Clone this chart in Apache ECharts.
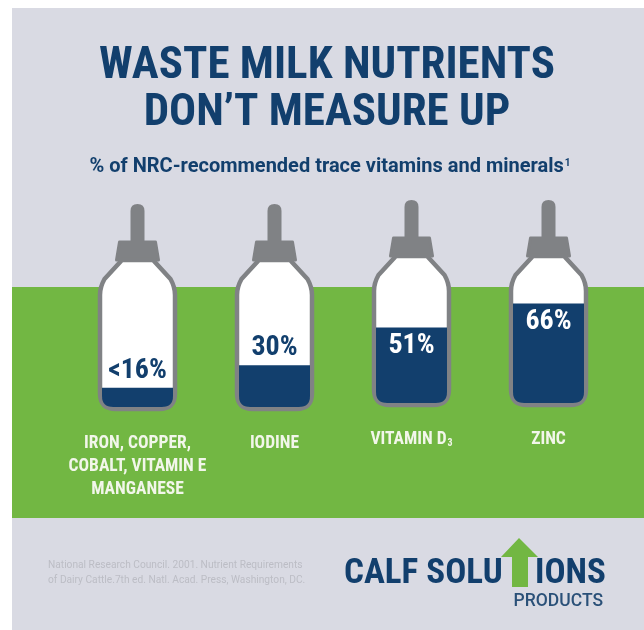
<!DOCTYPE html>
<html>
<head>
<meta charset="utf-8">
<script src="https://cdn.jsdelivr.net/npm/echarts@6/dist/echarts.min.js"></script>
<style>
  html, body { margin: 0; padding: 0; background: #fff; }
  #main { width: 644px; height: 630px; }
</style>
</head>
<body>
<div id="main"></div>
<script>
var categories = ['IRON, COPPER,\nCOBALT, VITAMIN E\nMANGANESE', 'IODINE', 'VITAMIN D{sub|3}', 'ZINC'];
var values = [16, 30, 51, 66];
var valueLabels = ['<16%', '30%', '51%', '66%'];

var navy = '#123f6d';
var green = '#72b743';
var panel = '#d9dae3';
var grey = '#808285';
var narrow = '"Roboto Condensed", Roboto, sans-serif';
var axisMin = 4;

var chart = echarts.init(document.getElementById('main'));

function renderBottle(params, api) {
  var base = api.coord([api.value(0), axisMin]);
  var top = api.coord([api.value(0), api.value(1)]);
  var cx = base[0], yb = base[1], yt = top[1];
  function p(dx, dy) { return (cx + dx) + ' ' + (yb + dy); }

  var body = 'M' + p(-37.5, -14) + ' L' + p(-37.5, -112) + ' Q' + p(-37.5, -120) + ' ' + p(-33, -128) +
    ' L' + p(-15.5, -147) + ' L' + p(15.5, -147) + ' L' + p(33, -128) + ' Q' + p(37.5, -120) + ' ' + p(37.5, -112) +
    ' L' + p(37.5, -14) + ' Q' + p(37.5, 2) + ' ' + p(21.5, 2) + ' L' + p(-21.5, 2) + ' Q' + p(-37.5, 2) + ' ' + p(-37.5, -14) + ' Z';
  var cap = 'M' + p(-21, -147) + ' L' + p(-18, -165) + ' L' + p(18, -165) + ' L' + p(21, -147) + ' Z';
  var teat = 'M' + p(-7, -160) + ' L' + p(-7, -196) + ' Q' + p(-7, -203) + ' ' + p(0, -203) +
    ' Q' + p(7, -203) + ' ' + p(7, -196) + ' L' + p(7, -160) + ' Z';
  var milk = 'M' + (cx - 35.5) + ' ' + yt + ' L' + (cx + 35.5) + ' ' + yt + ' L' + p(35.5, -11) +
    ' Q' + p(35.5, 0) + ' ' + p(24.5, 0) + ' L' + p(-24.5, 0) + ' Q' + p(-35.5, 0) + ' ' + p(-35.5, -11) + ' Z';

  var inside = api.value(1) > 40;
  return {
    type: 'group',
    children: [
      { type: 'path', shape: { pathData: teat }, style: { fill: grey } },
      { type: 'path', shape: { pathData: cap }, style: { fill: grey, stroke: grey, lineWidth: 3, lineJoin: 'round' } },
      { type: 'path', shape: { pathData: body }, style: { fill: '#fff', stroke: grey, lineWidth: 4.5 } },
      { type: 'path', shape: { pathData: milk }, style: { fill: navy } },
      {
        type: 'text',
        style: {
          text: valueLabels[api.value(2)],
          x: cx,
          y: inside ? yt + 18 : yt - 17,
          fill: inside ? '#fff' : navy,
          font: 'bold 28px ' + narrow,
          align: 'center',
          verticalAlign: 'middle'
        }
      }
    ]
  };
}

function makeAxis(grid, names) {
  return {
    type: 'category',
    gridIndex: grid,
    data: names,
    axisLine: { show: false },
    axisTick: { show: false },
    axisLabel: {
      interval: 0,
      margin: 25,
      color: '#f2f6ea',
      fontFamily: narrow,
      fontWeight: 'bold',
      fontSize: 17.5,
      lineHeight: 23,
      rich: { sub: { fontSize: 10, fontWeight: 'bold', color: '#f2f6ea', padding: [8, 0, 0, 1], fontFamily: narrow } }
    }
  };
}

function makeSeries(axis, from, to) {
  return {
    type: 'custom',
    xAxisIndex: axis,
    yAxisIndex: axis,
    clip: false,
    encode: { x: 0, y: 1 },
    renderItem: renderBottle,
    data: values.slice(from, to).map(function (v, i) { return [i, v, from + i]; })
  };
}

var option = {
  animation: false,
  backgroundColor: '#fff',
  title: [
    {
      text: 'WASTE MILK NUTRIENTS\nDON’T MEASURE UP',
      left: 322,
      top: 38,
      textAlign: 'center',
      textStyle: { color: navy, fontFamily: narrow, fontWeight: 'bold', fontSize: 45, lineHeight: 47 }
    },
    {
      text: '% of NRC-recommended trace vitamins and minerals{sup|1}',
      left: 325,
      top: 152,
      textAlign: 'center',
      textStyle: {
        color: navy, fontFamily: 'Roboto, sans-serif', fontWeight: 'bold', fontSize: 20,
        rich: { sup: { fontSize: 10, fontWeight: 'bold', color: navy, padding: [0, 0, 8, 1], fontFamily: 'Roboto, sans-serif' } }
      }
    }
  ],
  grid: [
    { left: 69, width: 274, top: 253, height: 154 },
    { left: 343, width: 274, top: 249, height: 154 }
  ],
  xAxis: [makeAxis(0, categories.slice(0, 2)), makeAxis(1, categories.slice(2, 4))],
  yAxis: [0, 1].map(function (g) {
    return { type: 'value', gridIndex: g, min: axisMin, max: 100, show: false };
  }),
  series: [makeSeries(0, 0, 2), makeSeries(1, 2, 4)],
  graphic: [
    { type: 'rect', z: -5, shape: { x: 12, y: 8, width: 632, height: 622 }, style: { fill: panel } },
    { type: 'rect', z: -4, shape: { x: 12, y: 287, width: 632, height: 231 }, style: { fill: green } },
    { type: 'text', style: { text: 'National Research Council. 2001. Nutrient Requirements\nof Dairy Cattle.7th ed. Natl. Acad. Press, Washington, DC.', x: 48, y: 558, fill: '#bcbdc5', font: '10.2px Roboto, sans-serif', lineHeight: 15 } },
    { type: 'text', style: { text: 'CALF SOLU', x: 344, y: 574.5, fill: navy, font: 'bold 35px ' + narrow, verticalAlign: 'middle' } },
    { type: 'text', style: { text: 'IONS', x: 535, y: 574.5, fill: navy, font: 'bold 35px ' + narrow, verticalAlign: 'middle' } },
    { type: 'text', style: { text: 'PRODUCTS', x: 603, y: 601.5, fill: '#2a5078', font: '500 17.5px Roboto, sans-serif', align: 'right', verticalAlign: 'middle' } },
    { type: 'polygon', shape: { points: [[519, 538], [538, 557], [528, 557], [528, 587], [512, 587], [512, 557], [501, 557]] }, style: { fill: green } }
  ]
};

chart.setOption(option);

window.addEventListener('resize', function () {
  chart.resize();
});
</script>
</body>
</html>
